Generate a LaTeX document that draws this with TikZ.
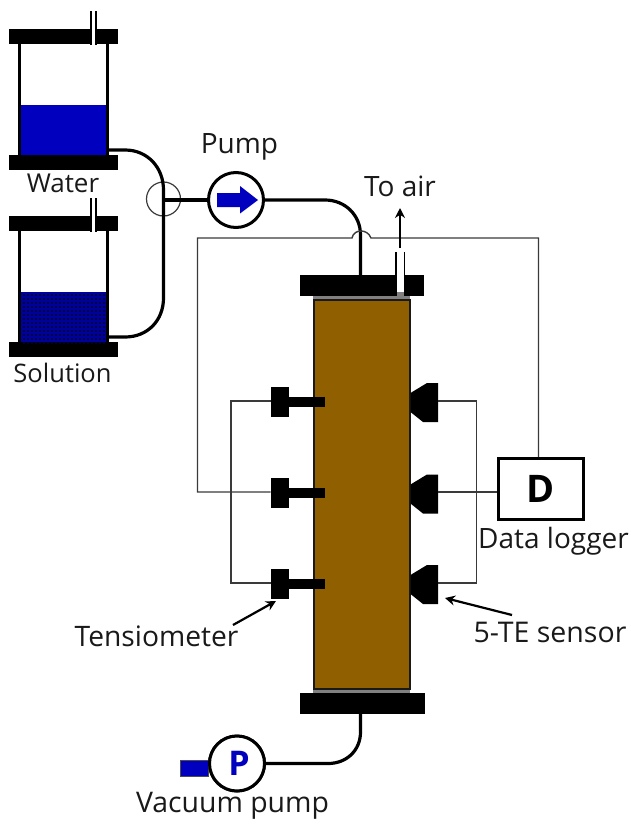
\documentclass[tikz,border=0pt]{standalone}
\usepackage{fontspec}
\setmainfont{Open Sans}
\usetikzlibrary{arrows.meta}
\definecolor{soil}{HTML}{8F5F00}
\definecolor{liquid}{HTML}{0000BE}
\definecolor{soln}{HTML}{00009A}
\definecolor{wirec}{HTML}{3A3A3A}
\tikzset{
  x=1pt,y=-1pt,
  bar/.style={fill=black,draw=none},
  pipe/.style={line width=3.2pt,black},
  wire/.style={line width=1.4pt,wirec},
  pumpc/.style={circle,draw=black,fill=white,line width=3pt,minimum size=55pt,inner sep=0pt},
  lab/.style={inner sep=0pt,text=black!90},
  pointer/.style={line width=2.2pt,black,-{Stealth[length=10pt,width=10pt]}},
  tensbody/.style={fill=black,draw=none},
}
\begin{document}
\begin{tikzpicture}
\useasboundingbox (0,0) rectangle (630,825);
% ---- tanks
\foreach \dy/\tag in {0/w,187/s}{
  \begin{scope}[yshift=-\dy pt]
  \draw[line width=3pt] (19.5,40) -- (19.5,160);
  \draw[line width=3pt] (107,40) -- (107,160);
  \fill[bar] (9,29) rectangle (118,44);
  \fill[bar] (9,155) rectangle (118,170);
  \fill[white] (91.5,11) rectangle (95.5,44);
  \draw[line width=2pt] (90.5,11) -- (90.5,45);
  \draw[line width=2pt] (96,11) -- (96,45);
  \end{scope}
}
\fill[liquid] (21,105) rectangle (105.5,155);
\fill[soln] (21,292) rectangle (105.5,342);
\foreach \i in {0,...,20}{\foreach \j in {0,...,12}{
  \fill[black!75!blue] ({23+4*\i},{294+4*\j}) rectangle +(1.6,1.6);
}}
% ---- column
\fill[gray] (313,294) rectangle (410,300);
\fill[gray] (313,688) rectangle (410,695);
\draw[fill=soil,draw=black!90,line width=2pt] (313.5,299.5) rectangle (409.5,688.5);
\fill[bar] (300,275) rectangle (424,296);
\fill[bar] (300,693) rectangle (424.5,714);
% air vent
\fill[white] (397,252) rectangle (404,296);
\fill[gray] (397,292) rectangle (404,297);
\draw[line width=1.8pt] (396,252) -- (396,296);
\draw[line width=1.8pt] (404.5,252) -- (404.5,296);
% ---- pumps and logger
\node[pumpc] (pump) at (236,200) {};
\node[pumpc] (vac) at (237,763.5) {};
\node[draw=black,fill=white,line width=3pt,minimum width=85pt,minimum height=61pt,inner sep=0pt,font=\fontsize{38}{40}\selectfont\bfseries] (logger) at (540.5,488.5) {D};
\node[circle,draw=wirec,line width=1.2pt,minimum size=34pt,inner sep=0pt] (valve) at (163.5,199) {};
\coordinate (junction) at (163.5,200);
\coordinate (wtank) at (107,150);
\coordinate (stank) at (107,337);
\coordinate (captop) at (360.5,275);
\coordinate (capbot) at (360.5,714);
% ---- pipes
\draw[pipe] (wtank) -- (125,150) .. controls (148,150) and (163.5,168) .. (163.5,190) -- (163.5,298) .. controls (163.5,320) and (148,337) .. (125,337) -- (stank);
\draw[pipe] (junction) -- (pump);
\draw[pipe] (pump) -- (325,200) .. controls (345,200) and (360.5,215) .. (360.5,235) -- (captop);
\draw[pipe] (capbot) -- (360.5,732) .. controls (360.5,750) and (347,763.5) .. (328,763.5) -- (vac);
\fill[liquid,draw=black!70,line width=.8pt] (180,760) rectangle (208,776);
\node[pumpc] at (vac) {};
\node[font=\fontsize{34}{36}\selectfont\bfseries,text=liquid,inner sep=0pt] (plabel) at (239,763) {P};
\fill[liquid] (217,193) -- (240,193) -- (240,186) -- (258,200) -- (240,213.5) -- (240,207) -- (217,207) -- cycle;
% ---- tensiometers
\foreach \n/\yc/\yw in {1/402/401,2/492.5/492,3/583.5/583}{
  \fill[tensbody] (270.5,\yc-15) rectangle (289,\yc+15);
  \fill[tensbody] (289,\yc-5) rectangle (325,\yc+5);
  \coordinate (t\n) at (270.5,\yw);
}
% ---- sensors
\foreach \n/\yt/\yw in {1/383/401,2/474.5/492,3/565/583}{
  \fill[black] (438,\yt) -- (427,\yt) -- (410.5,\yt+10) -- (410.5,\yt+29) -- (423,\yt+39) -- (438,\yt+39) -- cycle;
  \coordinate (e\n) at (438,\yw);
}
% ---- wires
\draw[wire] (t1) -- (231,401) -- (231,583) -- (t3);
\draw[wire] (e1) -- (476.5,401) -- (476.5,583) -- (e3);
\draw[wire] (e2) -- (logger.west |- e2);
\draw[wire] (t2) -- (197.5,492) -- (197.5,238) -- (352,238) .. controls (353,233) and (357,231) .. (361,231) .. controls (365,231) and (369,233) .. (371,238) -- (538.5,238) -- (538.5,457);
% air arrow
\coordinate (ventout) at (400,248);
\coordinate (airhead) at (400,208);
\draw[line width=2.2pt,-{Stealth[length=10pt,width=10pt]}] (ventout) -- (airhead);
% ---- labels
\node[lab,font=\fontsize{28}{30}\selectfont] (pumplab) at (239.5,147) {Pump};
\node[lab,font=\fontsize{28}{30}\selectfont] (toair) at (400,186) {To air};
\node[lab,font=\fontsize{26}{28}\selectfont] (waterlab) at (63,183.5) {Water};
\node[lab,font=\fontsize{25.5}{28}\selectfont] (sollab) at (62.5,373) {Solution};
\node[lab,font=\fontsize{28}{30}\selectfont] (loglab) at (553.5,541) {Data logger};
\node[lab,font=\fontsize{28.5}{30}\selectfont] (telab) at (550,632) {5-TE sensor};
\node[lab,font=\fontsize{28.2}{30}\selectfont] (tenslab) at (156.5,636) {Tensiometer};
\node[lab,font=\fontsize{28.4}{30}\selectfont] (vaclab) at (232.5,806) {Vacuum pump};
% pointers
\coordinate (tenstip) at (276,601);
\coordinate (tenstail) at (233,625);
\coordinate (setip) at (445,598);
\coordinate (setail) at (512,615);
\draw[pointer] (tenstail) -- (tenstip);
\draw[pointer] (setail) -- (setip);
\end{tikzpicture}
\end{document}
